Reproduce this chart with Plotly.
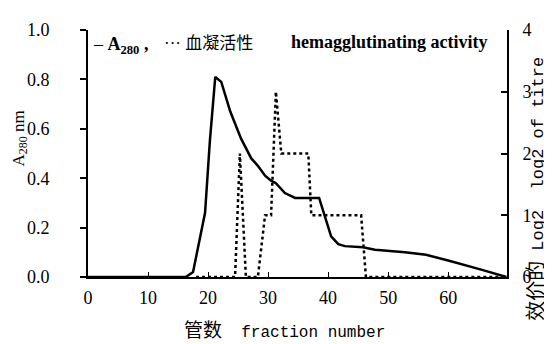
import plotly.graph_objects as go

# A280 absorbance (left axis)
fraction_a280 = [0, 16.3, 17.5, 19.5, 20.3, 21.2, 22.2, 23.7, 25.5, 27.2, 28.3, 29.5, 30.5, 31.3,
                 32.8, 34.5, 38.5, 39.5, 40.5, 41.7, 42.8, 45.8, 47.8, 52.8, 56.3, 60, 63.3, 65.5, 69.7]
a280 = [0, 0, 0.02, 0.26, 0.55, 0.81, 0.79, 0.67, 0.56, 0.48, 0.45, 0.41, 0.39, 0.38,
        0.34, 0.32, 0.32, 0.24, 0.165, 0.133, 0.125, 0.12, 0.11, 0.10, 0.09, 0.067, 0.043, 0.03, 0.0]

# hemagglutinating activity, log2 of titre (right axis)
fraction_ha = [18, 24.5, 25.3, 26.3, 28.3, 29.5, 30.5, 31.3, 32.2, 36.7, 37.2, 45.5, 46.3, 69.7]
ha_log2 = [0, 0, 2, 0, 0, 1, 1, 3, 2, 2, 1, 1, 0, 0]

x_ticks = [0, 10, 20, 30, 40, 50, 60]
left_ticks = [0.0, 0.2, 0.4, 0.6, 0.8, 1.0]
right_ticks = [0, 1, 2, 3, 4]

FONT = "Liberation Serif"


def cjk(s, size):
    return f"<span style='font-family:Noto Sans CJK SC;font-size:{size}px'>{s}</span>"


def mono(s, size):
    return f"<span style='font-family:Liberation Mono;font-size:{size}px'>{s}</span>"


fig = go.Figure()
fig.add_trace(go.Scatter(x=fraction_a280, y=a280, mode="lines",
                         line=dict(color="black", width=2.5), showlegend=False))
fig.add_trace(go.Scatter(x=fraction_ha, y=ha_log2, mode="lines", yaxis="y2",
                         line=dict(color="black", width=2.5, dash="3px,3px"), showlegend=False))

fig.update_layout(
    width=552, height=344,
    margin=dict(l=80, r=53, t=14, b=75),
    paper_bgcolor="white", plot_bgcolor="white",
    font=dict(family=FONT, size=18, color="black"),
    xaxis=dict(range=[0, 69.8], tickvals=x_ticks, ticks="inside", ticklen=5,
               tickcolor="black", showline=True, linecolor="black", linewidth=2,
               showgrid=False, zeroline=False, ticklabelstandoff=3),
    yaxis=dict(range=[0, 1.0], tickvals=left_ticks, tickformat=".1f", ticks="outside",
               ticklen=6, tickwidth=2, tickcolor="black", showline=True, linecolor="black",
               linewidth=2, showgrid=False, zeroline=False, ticklabelstandoff=27),
    yaxis2=dict(range=[0, 4], tickvals=right_ticks, overlaying="y", side="right",
                ticks="inside", ticklen=6, tickwidth=2, tickcolor="black", showline=True,
                linecolor="black", linewidth=2, showgrid=False, zeroline=False,
                ticklabelstandoff=10),
    annotations=[
        dict(text="– <b>A<sub>280</sub> ,</b>", xref="paper", yref="paper",
             x=(83 - 80) / 419, y=(269 - 30) / 255, xanchor="left", yanchor="middle",
             showarrow=False, font=dict(size=18)),
        dict(text="··· " + cjk("血凝活性", 17), xref="paper", yref="paper",
             x=(154 - 80) / 419, y=(269 - 26) / 255, xanchor="left", yanchor="middle",
             showarrow=False, font=dict(size=17)),
        dict(text="<b>hemagglutinating activity</b>", xref="paper", yref="paper",
             x=(281 - 80) / 419, y=(269 - 26) / 255, xanchor="left", yanchor="middle",
             showarrow=False, font=dict(size=18)),
        dict(text="A<sub>280</sub> nm", xref="paper", yref="paper",
             x=(12 - 80) / 419, y=(269 - 126) / 255, xanchor="center", yanchor="middle",
             textangle=-90, showarrow=False, font=dict(size=17)),
        dict(text=cjk("效价的", 20) + mono(" Log2  log2 of titre", 17), xref="paper", yref="paper",
             x=(527 - 80) / 419, y=(269 - 178) / 255, xanchor="center", yanchor="middle",
             textangle=-90, showarrow=False, font=dict(size=16)),
        dict(text=cjk("管数", 19) + mono("  fraction number", 16), xref="paper", yref="paper",
             x=(276 - 80) / 419, y=(269 - 322) / 255, xanchor="center", yanchor="middle",
             showarrow=False, font=dict(size=18)),
    ],
)

fig.write_html("out.html")
